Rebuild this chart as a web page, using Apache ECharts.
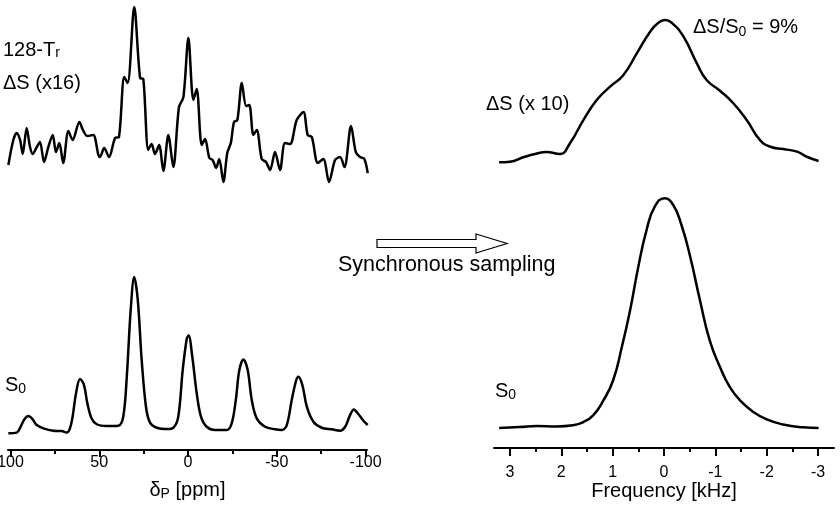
<!DOCTYPE html>
<html>
<head>
<meta charset="utf-8">
<script src="https://cdn.jsdelivr.net/npm/echarts@6.0.0/dist/echarts.min.js"></script>
<style>
html,body{margin:0;padding:0;background:#fff;}
#c{width:840px;height:509px;}
</style>
</head>
<body>
<div id="c"></div>
<script>
// ---- Left panel: 31P spectra (ppm) ----
const ppmDS = [101.2,98.4,96.5,94.6,93.1,90.9,89.0,87.5,85.2,83.4,81.1,78.7,76.2,74.4,72.5,70.3,67.4,65.0,61.2,59.2,56.7,53.4,50.5,49.6,47.2,44.5,41.1,38.9,35.9,34.0,30.3,27.0,25.2,22.4,20.5,18.6,16.3,13.9,11.1,8.3,5.1,2.6,-0.2,-3.0,-4.9,-7.7,-9.6,-12.0,-13.9,-15.8,-17.6,-19.9,-22.1,-24.1,-25.9,-27.8,-30.3,-32.7,-34.5,-36.8,-38.7,-41.5,-43.9,-46.2,-49.0,-51.8,-54.6,-57.5,-61.2,-65.0,-67.4,-69.7,-73.1,-76.2,-79.4,-82.8,-85.6,-88.1,-91.8,-94.5,-96.9,-99.3,-101.2];
const dsLeft = [11.2,25.3,29.2,25.3,17.4,32.0,21.3,17.4,21.3,24.2,12.9,21.3,28.1,18.5,23.6,12.4,30.3,25.3,35.4,30.9,27.5,28.1,16.9,15.7,20.8,15.7,26.4,27.0,60.7,57.3,100,60.1,59.6,19.7,23.0,17.4,22.5,7.9,28.1,10.1,43.8,49.4,82.6,47.8,53.9,22.5,25.8,15.2,14.0,9.6,14.6,1.7,18.0,23.6,35.4,36.5,57.3,44.4,44.9,28.1,30.9,14.6,12.9,8.4,18.5,8.4,23.6,23.0,36.5,41.0,28.1,27.0,12.4,14.6,1.7,14.0,15.7,10.1,33.1,18.5,15.7,14.6,6.7];

const ppmS0 = [101.2,96.5,94.3,92.4,90.0,87.5,85.2,81.5,75.9,71.2,68.3,66.5,65.0,63.1,60.8,58.6,56.7,54.3,51.4,45.8,39.3,36.5,34.5,32.3,30.3,28.3,26.1,23.7,21.4,17.6,12.0,8.3,5.5,3.0,0.7,-0.3,-2.4,-4.9,-7.3,-10.5,-15.2,-21.8,-24.6,-26.9,-28.9,-31.2,-33.6,-35.9,-38.7,-43.4,-49.0,-52.8,-55.6,-58.4,-60.7,-62.1,-64.4,-66.9,-70.6,-75.3,-81.0,-85.6,-88.5,-90.9,-93.4,-95.9,-98.8,-101.2];
const s0Left = [1.1,1.5,5.2,9.5,12.0,9.9,6.3,4.2,2.7,2.5,1.5,4.2,11.6,26.3,35.4,31.6,20.0,10.5,6.8,5.7,5.9,11.6,36.8,79.0,100,85.3,47.4,17.9,7.8,4.6,3.8,4.6,11.6,41.1,61.1,62.9,49.5,26.3,11.6,5.2,3.2,3.2,7.4,22.1,41.1,47.8,41.1,22.1,10.5,5.2,3.6,3.2,6.3,22.1,33.7,36.8,31.6,17.9,8.4,4.6,3.6,2.7,5.2,11.6,16.2,13.3,9.0,6.3];

// ---- Right panel: frequency (kHz) ----
const khzDS = [3.21,3.00,2.74,2.51,2.29,2.03,1.83,1.57,1.31,1.05,0.79,0.53,0.27,0.11,-0.02,-0.15,-0.38,-0.64,-0.83,-1.09,-1.35,-1.61,-1.87,-2.07,-2.32,-2.59,-2.78,-3.01];
const dsRight = [1.9,2.3,5.3,7.6,9.0,7.6,15.0,31.0,44.8,54.0,62.1,77.0,91.9,98.1,100,98.1,88.5,70.1,58.6,51.2,42.6,31.0,17.2,12.6,11.0,9.2,5.7,2.8];

const khzS0 = [3.21,2.81,2.48,2.09,1.77,1.57,1.38,1.18,0.99,0.82,0.66,0.50,0.34,0.18,-0.01,-0.18,-0.34,-0.51,-0.70,-0.89,-1.09,-1.28,-1.48,-1.74,-2.00,-2.32,-2.71,-3.01];
const s0Right = [1.0,1.4,1.9,1.7,2.2,3.6,6.5,12.9,21.6,36.0,51.8,70.5,86.3,96.4,100,97.1,88.5,74.8,56.1,38.8,27.3,18.7,12.9,7.9,4.7,2.5,1.3,1.0];

// ---- Tick values ----
const ppmTicks = [100, 50, 0, -50, -100];
const ppmMinor = [75, 25, -25, -75];
const khzTicks = [3, 2, 1, 0, -1, -2, -3];
const khzMinor = [2.5, 1.5, 0.5, -0.5, -1.5, -2.5];

const FONT = 'Liberation Sans, Arial, sans-serif';
const zip = (xs, ys) => xs.map((x, i) => [x, ys[i]]);

function hiddenX(grid, min, max) {
  return {type:'value', gridIndex:grid, min:min, max:max, inverse:true, show:false, splitLine:{show:false}};
}
function majorX(grid, min, max, ticks, tickLen, margin, name, gap) {
  return {
    type:'value', gridIndex:grid, min:min, max:max, inverse:true, position:'bottom',
    splitLine:{show:false},
    axisLine:{show:true, onZero:false, lineStyle:{color:'#000', width:2}},
    axisTick:{show:true, customValues:ticks, length:tickLen, lineStyle:{color:'#000', width:2}},
    axisLabel:{show:true, customValues:ticks, color:'#000', fontSize:16, fontFamily:FONT, margin:margin},
    name:name, nameLocation:'middle', nameGap:gap,
    nameTextStyle:{color:'#000', fontSize:20, fontFamily:FONT,
      rich:{m:{fontSize:20, fontFamily:FONT, color:'#000'}, s:{fontSize:14, fontFamily:FONT, color:'#000', padding:[8,0,0,0]}}}
  };
}
function minorX(grid, min, max, ticks, tickLen) {
  return {
    type:'value', gridIndex:grid, min:min, max:max, inverse:true, position:'bottom',
    splitLine:{show:false}, axisLine:{show:false, onZero:false},
    axisTick:{show:true, customValues:ticks, length:tickLen, lineStyle:{color:'#000', width:2}},
    axisLabel:{show:false}
  };
}
function line(xi, yi, data, smooth) {
  return {type:'line', xAxisIndex:xi, yAxisIndex:yi, data:data, showSymbol:false, smooth:smooth,
    clip:false, lineStyle:{color:'#000', width:2.5}, silent:true};
}
function label(x, y, text, sub, size) {
  const fs = size || 20;
  return {type:'text', x:x, y:y, silent:true, style:{
    text:text, fill:'#000', font:fs + 'px ' + FONT, textAlign:'left', textVerticalAlign:'middle',
    rich:{m:{fill:'#000', fontSize:fs, fontFamily:FONT}, s:{fill:'#000', fontSize:14, fontFamily:FONT, padding:[sub,0,0,0]}}
  }};
}
function grid(l, t, w, h) {
  return {left:l, top:t, width:w, height:h, containLabel:false, outerBoundsMode:'none'};
}

const chart = echarts.init(document.getElementById('c'), null, {renderer:'canvas'});
chart.setOption({
  animation:false,
  backgroundColor:'#fff',
  grid:[
    grid(8, 7, 359, 178),
    grid(8, 277, 359, 173),
    grid(494, 20, 340, 145),
    grid(494, 198.3, 340, 249.7)
  ],
  xAxis:[
    hiddenX(0, -100.8, 101.4),
    majorX(1, -100.8, 101.4, ppmTicks, 7, 5, '{m|δ}{s|P}{m| [ppm]}', 29),
    minorX(1, -100.8, 101.4, ppmMinor, 4),
    hiddenX(2, -3.31, 3.31),
    majorX(3, -3.31, 3.31, khzTicks, 8, 17, 'Frequency [kHz]', 32),
    minorX(3, -3.31, 3.31, khzMinor, 4)
  ],
  yAxis:[
    {type:'value', gridIndex:0, min:0, max:100, show:false},
    {type:'value', gridIndex:1, min:-9.5, max:100, show:false},
    {type:'value', gridIndex:2, min:0, max:100, show:false},
    {type:'value', gridIndex:3, min:-7.6, max:100, show:false}
  ],
  series:[
    line(0, 0, zip(ppmDS, dsLeft), 0.3),
    line(1, 1, zip(ppmS0, s0Left), 0.35),
    line(3, 2, zip(khzDS, dsRight), 0.5),
    line(4, 3, zip(khzS0, s0Right), 0.5)
  ],
  graphic:[
    label(3, 50, '{m|128-T}{s|r}', 6),
    label(3, 83, '{m|ΔS (x16)}', 0),
    label(5, 385, '{m|S}{s|0}', 8),
    label(693, 27, '{m|ΔS/S}{s|0}{m| = 9%}', 10),
    label(486, 104, '{m|ΔS (x 10)}', 0),
    label(495, 391, '{m|S}{s|0}', 8),
    label(338, 265, '{m|Synchronous sampling}', 0, 21.5),
    {type:'polygon', silent:true, shape:{points:[[377,239.5],[476,239.5],[476,234],[507,243.5],[476,253],[476,247.5],[377,247.5]]},
      style:{fill:'#fff', stroke:'#000', lineWidth:1.2}}
  ]
});
</script>
</body>
</html>
